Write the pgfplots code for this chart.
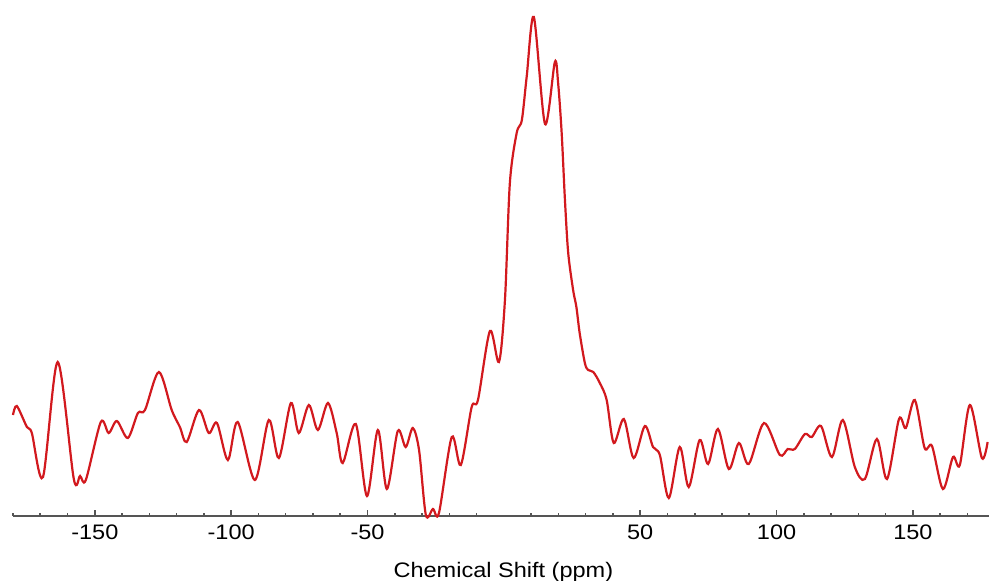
\documentclass[border=0pt]{standalone}
\usepackage{pgfplots}
\pgfplotsset{compat=1.18}
\usepackage{pgfplotstable}
\usepackage{fontspec}
\setmainfont{Liberation Sans}[FakeStretch=1.12]
\definecolor{specred}{RGB}{210,25,30}
\definecolor{axgray}{RGB}{85,85,85}
\pgfplotstableread{
x y
-180.0 101
-178.6 110
-174.9 89
-173.1 83
-169.0 39
-163.6 154
-157.7 37
-155.4 40
-153.3 36
-147.8 94
-144.9 83
-141.9 95
-137.9 78
-134.2 103
-131.6 106
-126.5 144
-121.8 106
-118.8 89
-116.3 74
-111.8 106
-108.2 83
-105.2 93
-101.2 56
-97.6 94
-91.3 36
-86.2 96
-82.5 58
-78.1 113
-75.2 83
-71.5 111
-68.2 86
-64.5 113
-61.3 83
-59.1 53
-54.3 92
-50.2 20
-46.2 86
-42.9 27
-38.9 85
-36.0 69
-33.4 88
-31.1 66
-28.6 1
-26.0 7
-23.8 3
-19.1 79
-15.8 51
-11.8 109
-9.5 116
-5.1 185
-1.8 154
0.4 216
2.2 333
4.7 383
6.6 396
8.4 440
11.0 499
15.1 392
18.7 454
19.9 433
21.2 383
22.4 316
23.6 263
25.4 226
26.6 209
27.8 183
29.7 153
30.9 146
32.8 144
35.2 133
37.7 116
40.3 73
44.0 97
47.6 58
51.7 90
54.7 69
57.2 61
60.5 18
64.5 69
67.8 29
71.8 76
74.9 52
78.5 87
82.5 47
86.2 73
89.8 52
95.4 93
101.2 61
104.1 67
106.7 67
110.4 82
112.9 79
116.3 90
120.3 59
124.3 96
128.7 49
132.4 37
136.8 77
140.5 37
144.9 97
147.4 88
150.7 116
154.3 68
157.0 70
161.0 27
164.7 59
167.2 51
170.9 111
175.3 58
177.4 74
}\spectrum
\begin{document}
\begin{tikzpicture}
\begin{axis}[
  scale only axis,
  width=487.85pt, height=258pt,
  xmin=-180, xmax=177.8, ymin=0, ymax=516,
  axis x line*=bottom, axis y line=none,
  x axis line style={draw=axgray, line width=1.2pt},
  xtick={-150,-100,-50,50,100,150},
  xticklabels={-150,-100,-50,50,100,150},
  minor xtick={-180,-170,-160,-140,-130,-120,-110,-90,-80,-70,-60,-40,-30,-20,-10,10,20,30,40,60,70,80,90,110,120,130,140,160,170},
  tick align=inside,
  major tick length=3pt, minor tick length=1.5pt,
  tick style={draw=axgray, line width=0.8pt},
  xticklabel style={font=\fontsize{10.5}{12}\selectfont, yshift=-1pt},
  xlabel={Chemical Shift (ppm)},
  xlabel style={font=\fontsize{10.5}{12}\selectfont, at={(axis description cs:0.5026,0)}, anchor=base, yshift=-30.5pt},
  clip=false,
]
\addplot[specred, line width=1.1pt, smooth, no marks] table[x=x,y=y] {\spectrum};
\end{axis}
\pgfresetboundingbox
\useasboundingbox (-6.5pt,-32pt) rectangle (488pt,258pt);
\end{tikzpicture}
\end{document}
